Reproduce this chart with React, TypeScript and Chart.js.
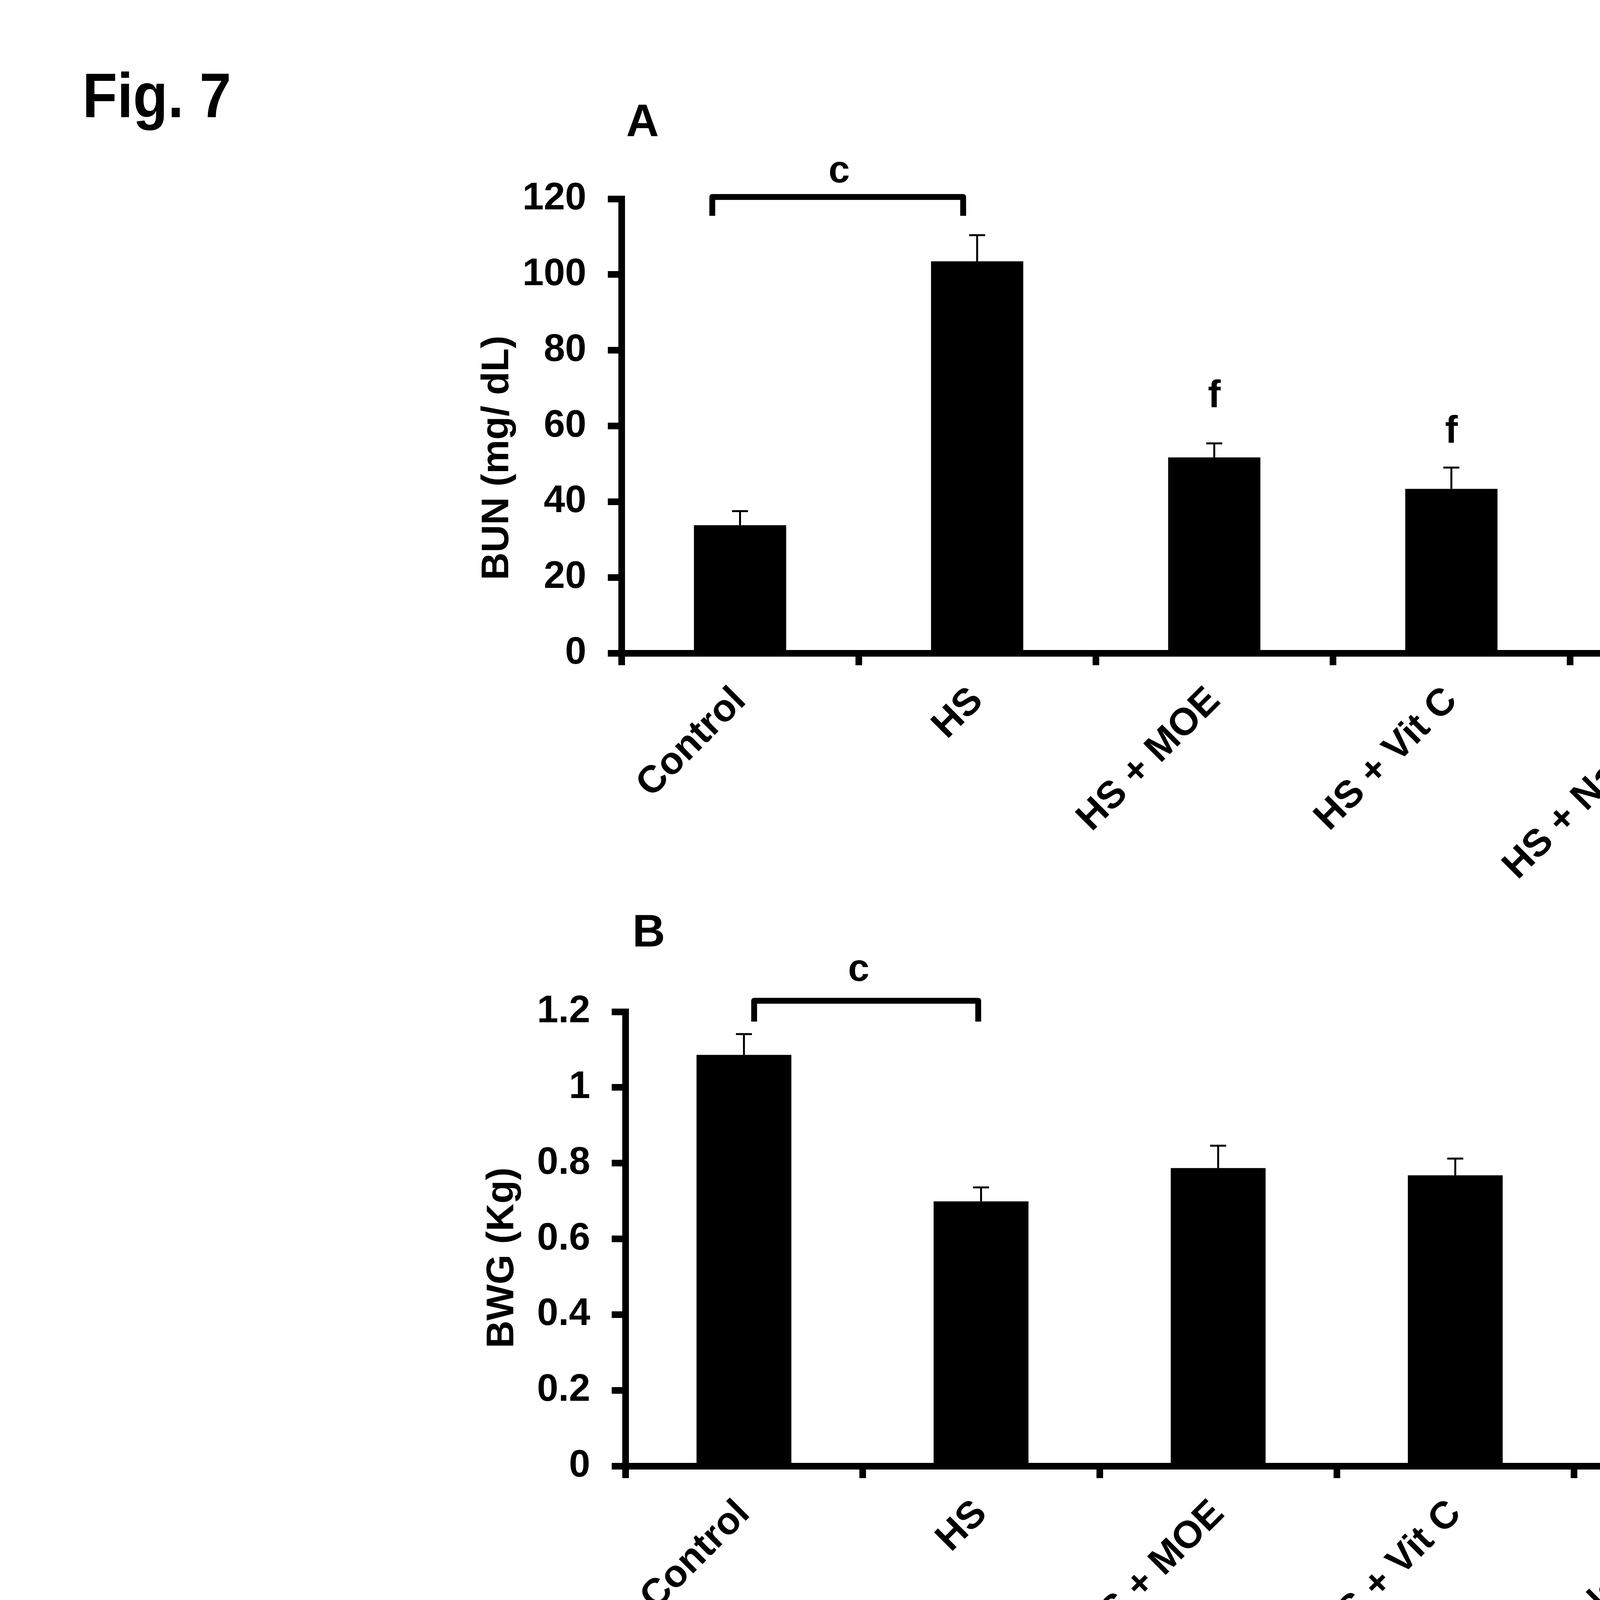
import React, { useEffect, useRef } from 'react';
import { Chart, registerables } from 'chart.js';

Chart.register(...registerables);

// ---------- data ----------
const categories = ['Control', 'HS', 'HS + MOE', 'HS + Vit C', 'HS + NaHCO3'];

const bunMeans = [33.8, 103.5, 51.7, 43.4, 56.8];
const bunSE = [3.7, 6.9, 3.7, 5.6, 6.4];
const bunTicks = ['0', '20', '40', '60', '80', '100', '120'];

const bwgMeans = [1.086, 0.699, 0.787, 0.768, 0.857];
const bwgSE = [0.055, 0.037, 0.059, 0.044, 0.045];
const bwgTicks = ['0', '0.2', '0.4', '0.6', '0.8', '1', '1.2'];

// significance letters: category index, letter, baseline value
const bunLetters = [
  { cat: 2, text: 'f', y: 65 },
  { cat: 3, text: 'f', y: 55.6 },
  { cat: 4, text: 'f', y: 69.5 },
];
const bwgLetters = [{ cat: 4, text: 'd', y: 0.918 }];

// brackets in category units / value units
const bunBracket = { from: -0.117, to: 0.941, top: 120.5, leg: 115.5, text: 'c', textAt: 0.418, textY: 124.3 };
const bwgBracket = { from: 0.043, to: 0.988, top: 1.229, leg: 1.174, text: 'c', textAt: 0.484, textY: 1.282 };

const FAMILY = '"Liberation Sans", Arial, Helvetica, sans-serif';
const FS = 98;

type Cfg = {
  means: number[];
  se: number[];
  ticks: string[];
  max: number;
  step: number;
  barPct: number;
  left: number;
  right: number;
  top: number;
  bottom: number;
  canvasH: number;
  letters: { cat: number; text: string; y: number }[];
  bracket: typeof bunBracket;
  title: string;
  titleX: number;
  titleY: number;
  panel: string;
  panelX: number;
  panelY: number;
  fig?: boolean;
};

function makePlugin(cfg: Cfg) {
  return {
    id: 'annot_' + cfg.panel,
    afterDatasetsDraw(chart: any) {
      const ctx = chart.ctx;
      const ys = chart.scales.y;
      const meta = chart.getDatasetMeta(0);
      ctx.save();
      ctx.strokeStyle = '#000';
      ctx.lineWidth = 5;
      meta.data.forEach((bar: any, i: number) => {
        const top = ys.getPixelForValue(cfg.means[i] + cfg.se[i]);
        ctx.beginPath();
        ctx.moveTo(bar.x, bar.y);
        ctx.lineTo(bar.x, top);
        ctx.moveTo(bar.x - 20.5, top);
        ctx.lineTo(bar.x + 20.5, top);
        ctx.stroke();
      });
      ctx.restore();
    },
    afterDraw(chart: any) {
      const ctx = chart.ctx;
      const xs = chart.scales.x;
      const ys = chart.scales.y;
      const x0 = xs.getPixelForValue(0);
      const cw = xs.getPixelForValue(1) - x0;
      const cx = (v: number) => x0 + v * cw;
      ctx.save();
      ctx.fillStyle = '#000';
      ctx.strokeStyle = '#000';

      // bracket
      const b = cfg.bracket;
      ctx.lineWidth = 15;
      ctx.lineJoin = 'round';
      ctx.lineCap = 'butt';
      ctx.beginPath();
      ctx.moveTo(cx(b.from), ys.getPixelForValue(b.leg));
      ctx.lineTo(cx(b.from), ys.getPixelForValue(b.top));
      ctx.lineTo(cx(b.to), ys.getPixelForValue(b.top));
      ctx.lineTo(cx(b.to), ys.getPixelForValue(b.leg));
      ctx.stroke();

      ctx.font = `bold ${FS}px ${FAMILY}`;
      ctx.textAlign = 'center';
      ctx.textBaseline = 'alphabetic';
      ctx.fillText(b.text, cx(b.textAt), ys.getPixelForValue(b.textY));

      // letters
      cfg.letters.forEach((l) => {
        ctx.fillText(l.text, cx(l.cat), ys.getPixelForValue(l.y));
      });

      // y title
      ctx.save();
      ctx.translate(cfg.titleX, cfg.titleY);
      ctx.rotate(-Math.PI / 2);
      ctx.font = `bold ${FS}px ${FAMILY}`;
      ctx.textAlign = 'center';
      ctx.fillText(cfg.title, 0, 0);
      ctx.restore();

      // panel letter
      ctx.textAlign = 'left';
      ctx.font = `bold 116px ${FAMILY}`;
      ctx.fillText(cfg.panel, cfg.panelX, cfg.panelY);

      if (cfg.fig) {
        ctx.save();
        ctx.translate(211, 300);
        ctx.scale(0.9, 1);
        ctx.font = `bold 162px ${FAMILY}`;
        ctx.fillText('Fig. 7', 0, 0);
        ctx.restore();
      }
      ctx.restore();
    },
  };
}

function makeConfig(cfg: Cfg): any {
  const font = { family: FAMILY, size: FS, weight: 'bold' as const };
  return {
    type: 'bar',
    data: {
      labels: categories,
      datasets: [
        {
          data: cfg.means,
          backgroundColor: '#000',
          borderWidth: 0,
          barPercentage: cfg.barPct,
          categoryPercentage: 1,
        },
      ],
    },
    options: {
      responsive: false,
      animation: false,
      devicePixelRatio: 1,
      layout: { padding: { left: 0, top: cfg.top, right: 6000 - cfg.right, bottom: 0 } },
      plugins: { legend: { display: false }, tooltip: { enabled: false }, title: { display: false } },
      scales: {
        x: {
          type: 'category',
          offset: true,
          grid: {
            display: true,
            offset: true,
            drawOnChartArea: false,
            drawTicks: true,
            tickLength: 31,
            tickWidth: 17,
            tickColor: '#000',
          },
          border: { display: true, width: 17, color: '#000' },
          ticks: {
            color: '#000',
            font,
            maxRotation: 45,
            minRotation: 45,
            autoSkip: false,
            padding: 34,
            labelOffset: 0,
          },
          afterFit: (s: any) => {
            s.height = cfg.canvasH - cfg.bottom;
          },
        },
        y: {
          min: 0,
          max: cfg.max,
          ticks: {
            stepSize: cfg.step,
            color: '#000',
            font,
            padding: 55,
            callback: (_v: any, i: number) => cfg.ticks[i],
          },
          grid: {
            display: true,
            drawOnChartArea: false,
            drawTicks: true,
            tickLength: 35,
            tickWidth: 17,
            tickColor: '#000',
          },
          border: { display: true, width: 17, color: '#000' },
          afterFit: (s: any) => {
            s.width = cfg.left;
          },
        },
      },
    },
    plugins: [makePlugin(cfg)],
  };
}

const cfgA: Cfg = {
  means: bunMeans,
  se: bunSE,
  ticks: bunTicks,
  max: 120,
  step: 20,
  barPct: 0.389,
  left: 1591,
  right: 4626,
  top: 509,
  bottom: 1672,
  canvasH: 2250,
  letters: bunLetters,
  bracket: bunBracket,
  title: 'BUN (mg/ dL)',
  titleX: 1301,
  titleY: 1172,
  panel: 'A',
  panelX: 1603,
  panelY: 349,
  fig: true,
};

const cfgB: Cfg = {
  means: bwgMeans,
  se: bwgSE,
  ticks: bwgTicks,
  max: 1.2,
  step: 0.2,
  barPct: 0.4,
  left: 1601,
  right: 4636,
  top: 340,
  bottom: 1503,
  canvasH: 2250,
  letters: bwgLetters,
  bracket: bwgBracket,
  title: 'BWG (Kg)',
  titleX: 1314,
  titleY: 970,
  panel: 'B',
  panelX: 1619,
  panelY: 173,
};

function Panel({ cfg, top }: { cfg: Cfg; top: number }) {
  const ref = useRef<HTMLCanvasElement | null>(null);
  useEffect(() => {
    if (!ref.current) return;
    const chart = new Chart(ref.current, makeConfig(cfg));
    return () => chart.destroy();
  }, [cfg]);
  return (
    <canvas
      ref={ref}
      width={6000}
      height={cfg.canvasH}
      style={{ position: 'absolute', left: 0, top, width: 6000, height: cfg.canvasH, display: 'block' }}
    />
  );
}

export default function App() {
  return (
    <div style={{ position: 'absolute', left: 0, top: 0, width: 6000, height: 4500, background: '#fff' }}>
      <Panel cfg={cfgA} top={0} />
      <Panel cfg={cfgB} top={2250} />
    </div>
  );
}
